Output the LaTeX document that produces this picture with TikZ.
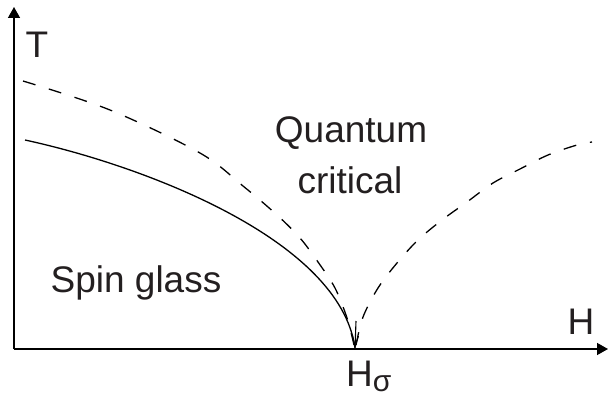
\documentclass[tikz,border=0pt]{standalone}
\usepackage{fontspec}
\setmainfont{Liberation Sans}
\usetikzlibrary{arrows.meta}
\definecolor{txt}{HTML}{231F20}
\tikzset{
  lbl/.style={font=\fontsize{37}{44}\selectfont, text=txt, inner sep=0pt, anchor=base},
  axis/.style={line width=1.5pt, -{Triangle[length=11pt,width=12pt]}},
  curve/.style={line width=1.3pt},
  dcurve/.style={line width=1.3pt, dash pattern=on 13pt off 14pt},
}
\begin{document}
\begin{tikzpicture}[x=1pt,y=-1pt]
\useasboundingbox (0,0) rectangle (608,396);
\coordinate (O) at (14,349);
\coordinate (Ttip) at (14,7);
\coordinate (Htip) at (608,349);
\coordinate (Hs) at (355,349);
\coordinate (Hsa) at (356,321);
\coordinate (sgS) at (25,140);
\coordinate (sgE) at (355,348);
\draw[axis] (O) -- (Ttip);
\draw[axis] (O) -- (Htip);
% solid spin-glass boundary
\draw[curve] (sgS) .. controls (145,166) and (340,240) .. (sgE);
% left dashed crossover
\draw[dcurve] plot[smooth, tension=0.55] coordinates {(23,81) (110,110) (200,153) (243,186) (277,215) (300,238) (318,262) (335,288) (347,318) (354,345)};
% right dashed crossover
\draw[dcurve] plot[smooth, tension=0.55] coordinates {(356,345) (363,317) (378,288) (397,263) (418,240) (442,220) (467,202) (493,183) (520,169) (548,155) (577,145) (592,142)};
\draw[line width=1.1pt, -{Straight Barb[length=11pt,width=6pt]}] (Hsa) -- (Hs);
\node[lbl] (T) at (37,58) {T};
\node[lbl] (H) at (581,334) {H};
\node[lbl, anchor=base west] (Hsig) at (346,386) {H\raisebox{-5pt}{\fontsize{30}{36}\selectfont σ}};
\node[lbl] (qc1) at (351,142) {Quantum};
\node[lbl] (qc2) at (350,193) {critical};
\node[lbl] (sg) at (136,292) {Spin glass};
\end{tikzpicture}
\end{document}
